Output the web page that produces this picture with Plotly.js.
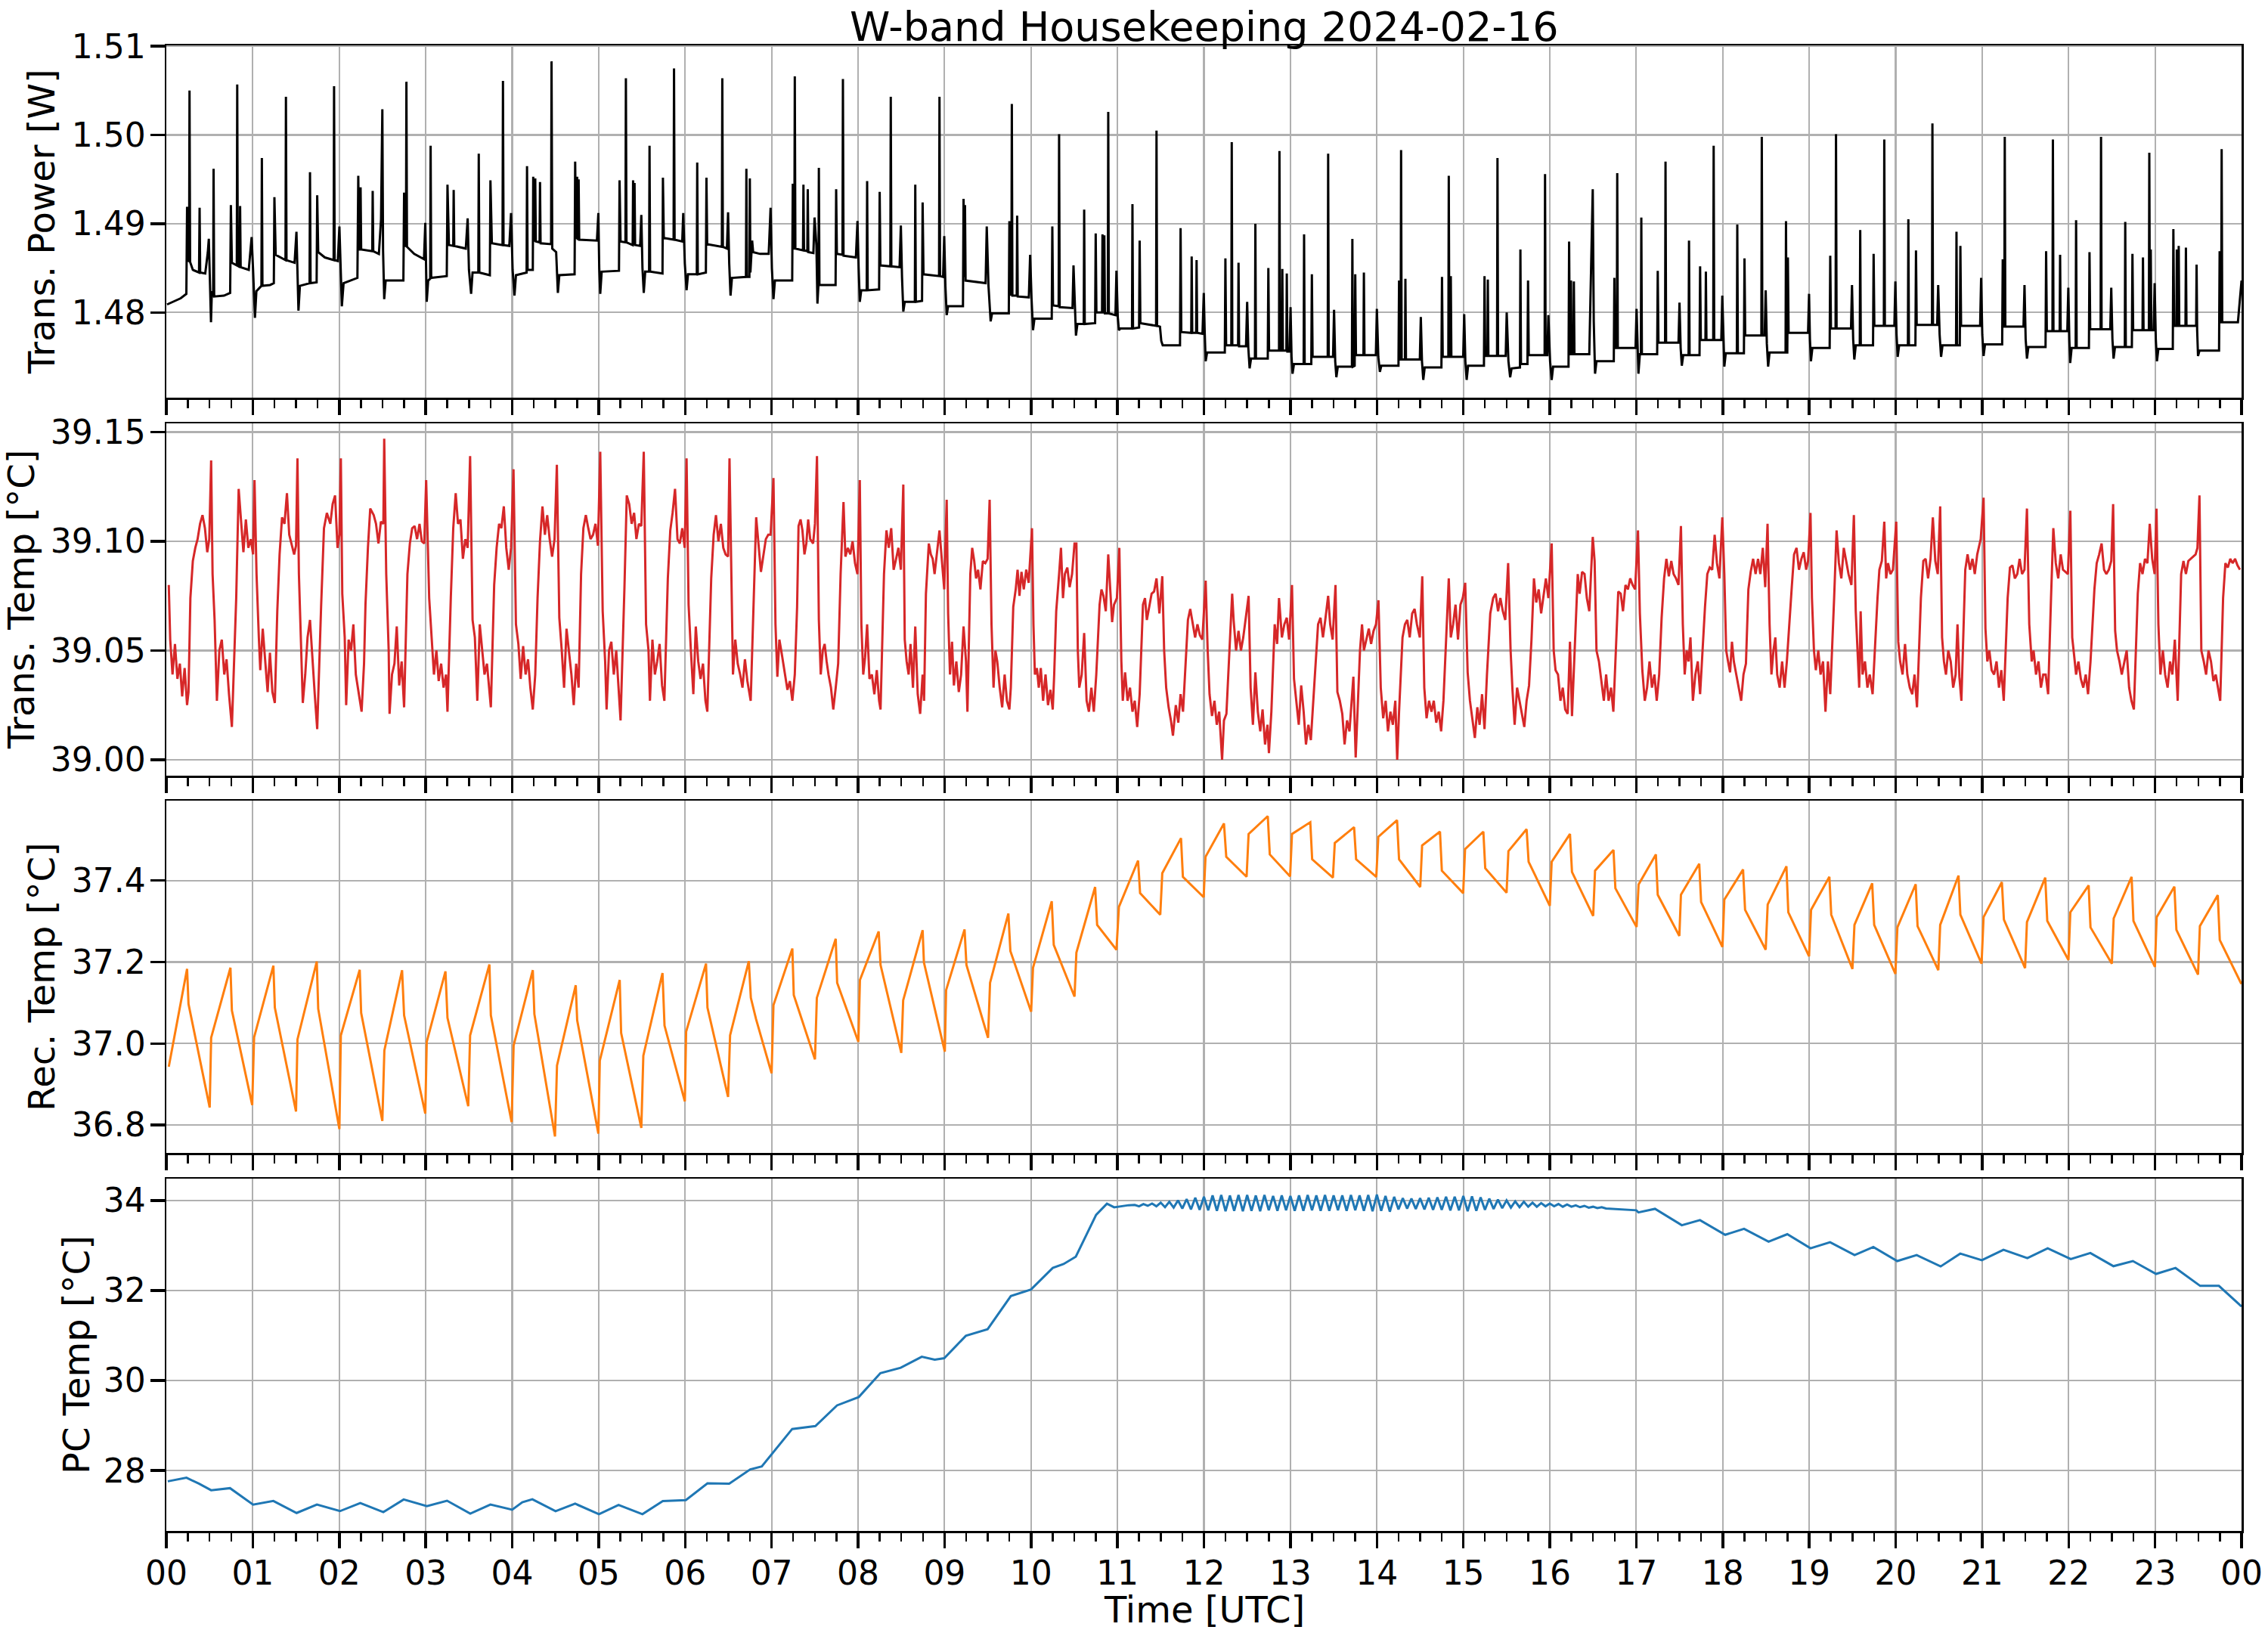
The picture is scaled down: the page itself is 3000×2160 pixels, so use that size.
<!DOCTYPE html>
<html>
<head>
<meta charset="utf-8">
<script src="https://cdn.plot.ly/plotly-3.0.1.min.js"></script>
<style>html,body{margin:0;padding:0;background:#fff}#plot{width:3000px;height:2160px}</style>
</head>
<body>
<div id="plot"></div>
<script>
// x values are minutes after 00:00 UTC
var hourTickMin = [0,60,120,180,240,300,360,420,480,540,600,660,720,780,840,900,960,1020,1080,1140,1200,1260,1320,1380,1440];
var hourLabels = ['00','01','02','03','04','05','06','07','08','09','10','11','12','13','14','15','16','17','18','19','20','21','22','23','00'];

var powerTicks = [1.48, 1.49, 1.50, 1.51];
var powerLabels = ['1.48', '1.49', '1.50', '1.51'];
var transTicks = [39.00, 39.05, 39.10, 39.15];
var transLabels = ['39.00', '39.05', '39.10', '39.15'];
var recTicks = [36.8, 37.0, 37.2, 37.4];
var recLabels = ['36.8', '37.0', '37.2', '37.4'];
var pcTicks = [28, 30, 32, 34];
var pcLabels = ['28', '30', '32', '34'];

// Trans. Power [W]
var powerPts = [
[0.5,1.4809],[5,1.4812],[10,1.4816],[13.9,1.4821],[14.4,1.4919],[14.9,1.4862],[15.8,1.4857],[16.1,1.5050],[16.5,1.4857],[18.4,1.4848],[22.7,1.4845],[23.1,1.4918],[23.5,1.4845],[27,1.4844],[28.8,1.4868],[29.5,1.4883],[30.3,1.4836],[31,1.4789],[31.6,1.4824],[32.5,1.4818],[32.8,1.4962],[33.2,1.4818],[40,1.4819],[44.3,1.4822],
[44.8,1.4921],[45.5,1.4856],[48.9,1.4853],[49.2,1.5057],[49.6,1.4853],[50.9,1.4851],[51.2,1.4920],[51.6,1.4851],[57.2,1.4848],[59.2,1.4885],[60.2,1.4848],[61.5,1.4794],[62.5,1.4824],[66,1.4830],[66.3,1.4974],[66.7,1.4830],[72,1.4831],[74.6,1.4833],
[75,1.4930],[75.9,1.4865],[82.7,1.4859],[83,1.5043],[83.4,1.4859],[89,1.4856],[90.3,1.4891],[91,1.4848],[91.7,1.4802],[92.7,1.4830],[99.4,1.4833],[99.7,1.4958],[100.1,1.4833],[104.3,1.4834],
[104.7,1.4932],[105.4,1.4868],[110,1.4862],[116.1,1.4859],[116.4,1.5055],[116.8,1.4859],[119,1.4858],[120.1,1.4897],[121.1,1.4848],[121.8,1.4807],[123,1.4833],[132.6,1.4839],
[133.2,1.4954],[133.8,1.4871],[134.5,1.4871],[134.8,1.4941],[135.2,1.4871],[142.9,1.4869],[143.2,1.4937],[143.6,1.4869],[147.5,1.4866],[149,1.4905],[149.9,1.5029],[150.4,1.4870],[151.2,1.4815],[152.2,1.4836],[164.5,1.4836],
[165,1.4935],[165.5,1.4880],[166.3,1.4874],[166.6,1.5060],[167,1.4874],[172,1.4866],[178.8,1.4860],[179.7,1.4901],[180.1,1.4855],[180.7,1.4812],[181.7,1.4836],[183.1,1.4838],[183.4,1.4988],[183.8,1.4839],[194.6,1.4841],
[195.1,1.4944],[196.1,1.4876],[199.1,1.4875],[199.4,1.4938],[199.8,1.4875],[207.8,1.4872],[209.1,1.4906],[210,1.4848],[211.5,1.4821],[212.5,1.4845],[216.5,1.4845],[216.8,1.4979],[217.2,1.4845],[224.5,1.4842],
[224.9,1.4949],[225.9,1.4878],[233.3,1.4876],[233.6,1.5061],[234,1.4876],[238,1.4875],[239.2,1.4912],[240.3,1.4848],[241.6,1.4819],[242.6,1.4842],[250,1.4845],[250.3,1.4965],[250.7,1.4848],[254.3,1.4848],
[254.6,1.4953],[255.2,1.4881],[255.7,1.4881],[256,1.4951],[256.4,1.4880],[259,1.4879],[259.3,1.4947],[259.7,1.4878],[267,1.4877],[267.3,1.5083],[267.8,1.4872],[270.5,1.4868],[271.7,1.4822],[272.7,1.4842],[283.3,1.4843],
[283.7,1.4970],[284.3,1.4884],[284.8,1.4884],[285.1,1.4953],[285.5,1.4883],[285.8,1.4883],[286.1,1.4950],[286.5,1.4882],[298.8,1.4881],[299.8,1.4912],[300.4,1.4850],[301.1,1.4821],[302.1,1.4846],[314.1,1.4847],
[314.5,1.4949],[315.2,1.4880],[318.6,1.4879],[318.9,1.5064],[319.3,1.4879],[323.6,1.4876],[323.9,1.4949],[324.3,1.4876],[324.6,1.4876],[324.9,1.4946],[325.3,1.4876],[328.8,1.4875],[329.6,1.4910],[330.4,1.4850],[331.3,1.4822],[332.3,1.4846],[335,1.4846],[335.3,1.4988],[335.7,1.4846],[344.3,1.4844],
[344.6,1.4952],[345.2,1.4884],[352,1.4882],[352.3,1.5075],[352.7,1.4882],[358,1.4880],[358.7,1.4912],[359.8,1.4855],[361,1.4825],[362,1.4843],[368.1,1.4843],[368.4,1.4969],[368.8,1.4843],[374.4,1.4845],
[374.8,1.4952],[375.3,1.4877],[385.5,1.4874],[385.8,1.5064],[386.2,1.4874],[389,1.4872],[389.8,1.4913],[390.6,1.4855],[391.5,1.4819],[392.5,1.4839],[402.2,1.4840],[402.5,1.4962],[402.9,1.4840],[404.6,1.4840],[404.9,1.4951],[405.3,1.4845],
[406.5,1.4881],[407.2,1.4868],[412,1.4866],[418,1.4866],[419.3,1.4918],[420.2,1.4850],[421.3,1.4815],[422.3,1.4836],[434.3,1.4836],
[434.7,1.4945],[435.3,1.4872],[435.8,1.4872],[436.1,1.5066],[436.5,1.4872],[441.8,1.4870],[442.1,1.4944],[442.5,1.4870],[444.8,1.4869],[445.1,1.4939],[445.5,1.4868],[449,1.4867],[449.8,1.4907],[451.1,1.4876],[451.8,1.4810],[452.5,1.4831],[452.8,1.4963],[453.2,1.4831],[464.4,1.4831],
[464.8,1.4939],[465.3,1.4866],[469.2,1.4865],[469.5,1.5063],[469.9,1.4864],[478.5,1.4862],[479.6,1.4903],[480.4,1.4850],[481.2,1.4812],[482.2,1.4825],[486,1.4825],[486.3,1.4948],[486.7,1.4825],[494.6,1.4826],
[495,1.4936],[495.5,1.4853],[502.4,1.4852],[502.7,1.5043],[503.1,1.4852],[508.8,1.4851],[509.7,1.4898],[510.5,1.4840],[511.4,1.4801],[512.4,1.4812],[519.4,1.4812],[519.7,1.4944],[520.1,1.4812],[524.4,1.4813],
[524.8,1.4924],[525.4,1.4843],[536.2,1.4841],[536.5,1.5043],[536.9,1.4841],[539,1.4840],[539.8,1.4886],[540.6,1.4830],[541.5,1.4797],[542.5,1.4807],[552.8,1.4807],
[553.2,1.4928],[553.6,1.4840],[553.9,1.4840],[554.2,1.4921],[554.6,1.4836],[568.5,1.4833],[569.3,1.4897],[570.5,1.4830],[572,1.4790],[573,1.4799],[584.6,1.4799],
[585,1.4903],[585.5,1.4820],[586.4,1.4820],[586.7,1.5035],[587.1,1.4819],[590.1,1.4819],[590.4,1.4909],[590.8,1.4818],[598.5,1.4817],[599.4,1.4865],[600.4,1.4815],[601.4,1.4780],[602.4,1.4793],[614.4,1.4793],
[614.8,1.4897],[615.3,1.4808],[619.2,1.4807],[619.5,1.5001],[619.9,1.4806],[628.8,1.4805],[629.5,1.4853],[630.4,1.4800],[631.2,1.4774],[632.2,1.4787],[636.6,1.4787],[636.9,1.4916],[637.3,1.4787],[644.5,1.4788],
[644.9,1.4889],[645.4,1.4800],[649.3,1.4800],[649.6,1.4888],[650,1.4800],[650.6,1.4800],[650.9,1.4887],[651.3,1.4799],[653.3,1.4799],[653.6,1.5026],[654,1.4799],[658.6,1.4797],[659.3,1.4847],[660.2,1.4795],[661,1.4780],[662,1.4782],[670.1,1.4782],[670.4,1.4922],[670.8,1.4782],[675,1.4783],
[675.4,1.4881],[675.9,1.4788],[686.8,1.4785],[687.1,1.5005],[687.5,1.4785],[689.5,1.4784],[690.4,1.4768],[691.4,1.4763],[703.4,1.4763],
[703.8,1.4895],[704.3,1.4778],[711.2,1.4777],[711.5,1.4863],[711.9,1.4777],[714.6,1.4777],[714.9,1.4859],[715.3,1.4777],[719,1.4776],[719.9,1.4822],[720.5,1.4780],[721.2,1.4745],[722.2,1.4755],[734.5,1.4755],
[734.9,1.4861],[735.4,1.4763],[739,1.4763],[739.3,1.4992],[739.7,1.4763],[743.7,1.4763],[744,1.4856],[744.4,1.4762],[749.2,1.4762],[750,1.4812],[750.8,1.4760],[751.7,1.4737],[752.7,1.4748],[755.4,1.4748],[755.7,1.4900],[756.1,1.4748],[764.3,1.4748],
[764.7,1.4850],[765.2,1.4757],[772.1,1.4757],[772.4,1.4982],[772.8,1.4757],[774.1,1.4757],[774.4,1.4849],[774.8,1.4757],[777.2,1.4757],[777.5,1.4844],[777.9,1.4756],[779.4,1.4756],[780.1,1.4806],[780.8,1.4750],[781.5,1.4731],[782.5,1.4742],[789.2,1.4742],[789.5,1.4888],[789.9,1.4742],[794.5,1.4742],
[794.9,1.4843],[795.4,1.4750],[805.9,1.4750],[806.2,1.4979],[806.6,1.4750],[809.6,1.4750],[810.3,1.4803],[811.1,1.4745],[811.9,1.4727],[812.9,1.4739],[822.7,1.4739],[823,1.4883],[823.4,1.4739],[824.6,1.4740],
[825,1.4843],[825.5,1.4752],[830.7,1.4752],[831,1.4845],[831.4,1.4752],[839.3,1.4752],[840,1.4804],[841,1.4750],[842.1,1.4733],[843.1,1.4740],[855,1.4740],
[855.4,1.4836],[855.9,1.4747],[856.5,1.4747],[856.8,1.4983],[857.2,1.4747],[859.5,1.4747],[859.8,1.4838],[860.2,1.4747],[869.8,1.4747],[870.5,1.4795],[871.3,1.4745],[872.2,1.4724],[873.2,1.4738],[884.8,1.4738],
[885.2,1.4840],[885.7,1.4750],[889.6,1.4750],[889.9,1.4954],[890.3,1.4750],[891,1.4750],[891.3,1.4841],[891.7,1.4750],[899.9,1.4750],[900.6,1.4798],[901.4,1.4745],[902.3,1.4724],[903.3,1.4740],[914.3,1.4740],
[914.7,1.4841],[915.2,1.4751],[916.7,1.4751],[917,1.4837],[917.4,1.4751],[923.4,1.4751],[923.7,1.4974],[924.1,1.4751],[929.4,1.4751],[930.1,1.4800],[931.3,1.4745],[932.5,1.4727],[933.5,1.4737],[939.3,1.4738],[939.6,1.4871],[940,1.4742],[944.5,1.4742],
[944.9,1.4836],[945.4,1.4752],[956.4,1.4752],[956.7,1.4956],[957.1,1.4752],[958.3,1.4752],[959,1.4797],[960.2,1.4745],[961.3,1.4724],[962.3,1.4739],[973,1.4739],
[973.4,1.4880],[973.9,1.4753],[974.4,1.4753],[974.7,1.4836],[975.1,1.4753],[976.4,1.4753],[976.7,1.4835],[977.1,1.4753],[987.4,1.4753],[988.1,1.4803],[989.8,1.4939],[990.5,1.4790],[991.4,1.4731],[992.4,1.4745],[1004.4,1.4745],
[1004.8,1.4839],[1005.3,1.4760],[1006.5,1.4760],[1006.8,1.4957],[1007.2,1.4760],[1019.5,1.4760],[1020.2,1.4804],[1020.9,1.4755],[1021.5,1.4731],[1022.5,1.4753],[1023.2,1.4753],[1023.5,1.4907],[1023.9,1.4753],[1034.5,1.4753],
[1034.9,1.4847],[1035.4,1.4766],[1040,1.4766],[1040.3,1.4970],[1040.7,1.4766],[1049.3,1.4766],[1050,1.4811],[1050.8,1.4760],[1051.6,1.4740],[1052.6,1.4752],[1056.3,1.4752],[1056.6,1.4881],[1057,1.4752],[1063.9,1.4752],
[1064.3,1.4852],[1064.8,1.4769],[1068,1.4769],[1068.3,1.4846],[1068.7,1.4769],[1073.4,1.4769],[1073.7,1.4988],[1074.1,1.4769],[1079,1.4769],[1079.7,1.4819],[1080.4,1.4765],[1081.1,1.4739],[1082.1,1.4754],[1089.8,1.4754],[1090.1,1.4899],[1090.5,1.4754],[1094.7,1.4754],
[1095.1,1.4861],[1095.6,1.4774],[1106.8,1.4774],[1107.1,1.4998],[1107.5,1.4774],[1109.1,1.4774],[1109.8,1.4825],[1110.6,1.4765],[1111.5,1.4739],[1112.5,1.4755],[1123.6,1.4755],[1123.9,1.4903],[1124.3,1.4755],[1124.8,1.4755],
[1125.2,1.4862],[1125.7,1.4777],[1139.2,1.4777],[1139.9,1.4821],[1140.5,1.4770],[1141.2,1.4745],[1142.2,1.4760],[1154.2,1.4760],
[1154.6,1.4864],[1155.1,1.4782],[1158.3,1.4782],[1158.6,1.5001],[1159,1.4782],[1169,1.4782],[1169.7,1.4831],[1170.5,1.4770],[1171.3,1.4747],[1172.3,1.4763],[1175.1,1.4763],[1175.4,1.4893],[1175.8,1.4763],[1184.3,1.4763],
[1184.7,1.4866],[1185.2,1.4785],[1191.8,1.4785],[1192.1,1.4995],[1192.5,1.4785],[1199.1,1.4785],[1199.8,1.4835],[1200.6,1.4775],[1201.4,1.4750],[1202.4,1.4763],[1208.5,1.4763],[1208.8,1.4905],[1209.2,1.4763],[1213.7,1.4763],
[1214.1,1.4870],[1214.6,1.4786],[1225.2,1.4786],[1225.5,1.5013],[1225.9,1.4786],[1228.8,1.4786],[1229.5,1.4831],[1230.5,1.4775],[1231.5,1.4750],[1232.5,1.4763],[1241.9,1.4763],[1242.2,1.4891],[1242.6,1.4763],[1244.5,1.4763],
[1244.9,1.4875],[1245.4,1.4785],[1258.6,1.4785],[1259.3,1.4839],[1260.1,1.4775],[1261,1.4751],[1262,1.4764],[1273.9,1.4764],
[1274.3,1.4860],[1274.8,1.4784],[1275.4,1.4784],[1275.7,1.4998],[1276.1,1.4784],[1288.7,1.4784],[1289.4,1.4831],[1290.2,1.4770],[1291.1,1.4748],[1292.1,1.4761],[1304,1.4761],
[1304.4,1.4869],[1304.9,1.4779],[1308.8,1.4779],[1309.1,1.4995],[1309.5,1.4779],[1313.8,1.4779],[1314.1,1.4865],[1314.5,1.4779],[1319.1,1.4779],[1319.8,1.4828],[1320.5,1.4770],[1321.1,1.4743],[1322.1,1.4760],[1324.9,1.4760],[1325.2,1.4904],[1325.6,1.4760],[1334.1,1.4760],
[1334.5,1.4868],[1335,1.4781],[1342.2,1.4781],[1342.5,1.4998],[1342.9,1.4781],[1348.9,1.4781],[1349.6,1.4828],[1350.4,1.4770],[1351.2,1.4748],[1352.2,1.4761],[1359,1.4761],[1359.3,1.4902],[1359.7,1.4761],[1363.9,1.4761],
[1364.3,1.4866],[1364.8,1.4780],[1371.3,1.4780],[1371.6,1.4862],[1372,1.4780],[1375.7,1.4780],[1376,1.4980],[1376.4,1.4780],[1376.7,1.4780],[1377,1.4871],[1377.4,1.4780],[1379,1.4780],[1379.7,1.4833],[1380.5,1.4770],[1381.3,1.4745],[1382.3,1.4759],[1392.3,1.4759],
[1392.7,1.4894],[1393.2,1.4785],[1394.8,1.4785],[1395.1,1.4871],[1395.5,1.4785],[1396.1,1.4785],[1396.4,1.4875],[1396.8,1.4785],[1401.1,1.4785],[1401.4,1.4873],[1401.8,1.4785],[1408.5,1.4785],[1408.8,1.4854],[1409.2,1.4780],[1409.8,1.4751],[1410.8,1.4757],[1424.4,1.4757],
[1424.8,1.4869],[1425.3,1.4789],[1425.9,1.4789],[1426.2,1.4984],[1426.6,1.4789],[1437.5,1.4789],[1440,1.4836]
];

// Trans. Temp [°C]
var transTempPts = [
[1.7,39.080],[2.7,39.055],[4.3,39.039],[6,39.053],[7.7,39.037],[9.4,39.044],[11,39.029],[12.7,39.042],[14.4,39.025],[15.4,39.031],
[16.7,39.074],[18.4,39.091],[20.1,39.097],[21.7,39.101],[23.4,39.108],[25.1,39.112],[26.8,39.106],[28.4,39.095],[29.8,39.101],[31.1,39.137],[32.1,39.085],[33.5,39.064],
[35.1,39.027],[36.8,39.050],[38.5,39.055],[40.2,39.039],[41.8,39.046],[43.5,39.030],[45.5,39.015],[46.8,39.039],
[48.5,39.074],[50.2,39.124],[51.9,39.108],[53.5,39.095],[55.2,39.110],[56.9,39.097],[58.6,39.101],[60.2,39.094],[61.2,39.128],[62.6,39.085],[64.2,39.056],
[65.2,39.041],[66.9,39.060],[68.6,39.044],[70.3,39.031],[71.9,39.049],[73.6,39.031],[75.3,39.026],
[77,39.068],[78.6,39.094],[80.3,39.111],[82,39.108],[83.7,39.122],[85.3,39.103],[87,39.098],[88.7,39.094],[90,39.098],[91,39.138],[92,39.085],[93.7,39.050],
[94.7,39.026],[96.4,39.039],[98,39.056],[99.7,39.064],[101.4,39.045],[103.1,39.029],[104.7,39.014],[106.1,39.045],
[107.4,39.070],[109.4,39.106],[111.4,39.113],[113.8,39.108],[115.4,39.117],[117.1,39.121],[118.8,39.097],[120.1,39.103],[121.1,39.138],[122.1,39.076],[123.8,39.056],
[124.8,39.025],[126.5,39.055],[128.2,39.050],[129.8,39.062],[131.5,39.039],[133.8,39.030],[135.5,39.022],[137.2,39.044],
[138.2,39.071],[139.9,39.097],[141.5,39.115],[143.9,39.112],[145.5,39.108],[147.2,39.099],[148.9,39.109],[150.6,39.108],[151.2,39.147],[152.6,39.085],[154.3,39.050],
[154.9,39.021],[156.6,39.039],[158.3,39.044],[159.9,39.061],[161.6,39.034],[163.3,39.045],[165,39.024],
[167.3,39.085],[169,39.099],[170.6,39.106],[172.3,39.107],[174,39.101],[175.7,39.108],[177.3,39.100],[179,39.099],[180.3,39.128],[182.4,39.074],[184,39.056],
[185.7,39.039],[187.4,39.050],[189,39.036],[190.7,39.044],[192.4,39.033],[194.1,39.039],[195.1,39.022],
[197.4,39.074],[199.1,39.106],[200.8,39.122],[202.4,39.108],[204.1,39.110],[205.8,39.092],[207.5,39.101],[209.1,39.097],[210.8,39.139],[212.5,39.064],[214.1,39.056],
[215.8,39.027],[217.5,39.062],[219.2,39.050],[220.8,39.039],[222.5,39.044],[224.2,39.033],[225.2,39.024],
[227.5,39.080],[229.2,39.097],[230.9,39.108],[232.5,39.106],[234.2,39.116],[235.9,39.097],[237.6,39.087],[239.2,39.097],[240.9,39.133],[242.6,39.062],[244.3,39.053],
[245.9,39.037],[247.6,39.052],[249.3,39.039],[251,39.046],[252.6,39.033],[254.3,39.023],[256,39.039],
[257.6,39.074],[259.3,39.100],[261,39.116],[262.7,39.103],[264.3,39.112],[266,39.101],[267.7,39.093],[269.4,39.101],[271,39.135],[272.7,39.065],[274.4,39.050],
[276,39.033],[277.7,39.060],[279.4,39.049],[281.1,39.039],[282.7,39.025],[284.4,39.044],[286.1,39.033],
[287.8,39.085],[289.4,39.106],[291.1,39.112],[292.8,39.106],[294.4,39.101],[296.1,39.103],[297.8,39.108],[299.5,39.098],[301.1,39.141],[302.8,39.068],[304.5,39.045],
[305.5,39.023],[307.2,39.050],[308.8,39.054],[310.5,39.039],[312.2,39.050],[313.9,39.033],[315.2,39.018],
[317.9,39.079],[319.5,39.121],[321.2,39.117],[322.9,39.108],[324.6,39.113],[326.2,39.101],[327.9,39.108],[329.6,39.107],[331.3,39.141],[332.9,39.062],[334.6,39.050],
[335.6,39.027],[337.3,39.055],[339,39.039],[340.6,39.045],[342.3,39.053],[344,39.034],[345.6,39.027],
[348,39.083],[349.7,39.105],[351.3,39.113],[353,39.124],[354.7,39.101],[356.3,39.099],[358,39.106],[359.7,39.097],[361,39.138],[362.4,39.071],[364,39.050],
[365.7,39.030],[367.4,39.061],[369.1,39.045],[370.7,39.037],[372.4,39.044],[374.1,39.027],[375.4,39.022],
[378.1,39.083],[379.8,39.103],[381.4,39.112],[383.1,39.100],[384.8,39.108],[386.5,39.097],[388.1,39.094],[389.8,39.093],[390.8,39.138],[392.2,39.074],[393.2,39.039],
[394.8,39.055],[396.5,39.044],[398.2,39.039],[399.8,39.033],[401.5,39.046],[403.2,39.036],[405.5,39.027],
[407.6,39.074],[409.3,39.111],[412.6,39.086],[414.3,39.094],[416,39.101],[417.7,39.103],[419.3,39.103],[421.3,39.129],[422.7,39.062],[424,39.038],[425.4,39.055],[426.7,39.050],[428,39.044],[429.4,39.039],[431,39.032],[432.7,39.036],[434.4,39.027],[436.1,39.039],
[437.7,39.070],[438.7,39.107],[440.1,39.110],[441.4,39.105],[442.8,39.094],[444.1,39.099],[445.4,39.110],[446.8,39.101],[448.8,39.099],[450.1,39.108],[451.5,39.139],[452.8,39.064],[454.1,39.039],[455.5,39.050],[456.8,39.053],[458.2,39.045],[459.5,39.039],[461.2,39.033],[462.8,39.023],[464.5,39.033],[466.2,39.044],
[467.9,39.085],[469.9,39.118],[471.2,39.093],[472.9,39.097],[474.6,39.094],[476.2,39.100],[477.9,39.090],[479.6,39.085],[481.2,39.128],[482.3,39.062],[483.6,39.039],[484.9,39.047],[486.3,39.062],[487.9,39.037],[489.6,39.039],[491.3,39.030],[493,39.041],[494.6,39.027],[495.6,39.023],
[498,39.085],[499.7,39.105],[501.3,39.097],[503,39.106],[504.7,39.087],[506.4,39.092],[508,39.097],[509.7,39.087],[511.4,39.126],[512.4,39.055],[513.7,39.045],[515.1,39.039],[516.4,39.053],[518.1,39.033],[519.7,39.061],[521.4,39.030],[523.1,39.021],[524.8,39.039],[525.8,39.027],
[527.1,39.076],[529.1,39.099],[530.5,39.094],[531.8,39.092],[533.1,39.085],[534.8,39.094],[536.5,39.105],[538.2,39.091],[539.8,39.078],[541.5,39.119],[542.5,39.067],[543.8,39.039],[545.2,39.054],[546.5,39.034],[548.2,39.045],[549.9,39.031],[551.5,39.039],[553.2,39.061],[554.9,39.045],[555.9,39.022],
[557.9,39.085],[559.2,39.097],[560.6,39.091],[561.9,39.083],[563.3,39.087],[564.9,39.078],[566.6,39.091],[568.3,39.090],[569.9,39.092],[571.3,39.119],[572.6,39.062],[574,39.033],[575.3,39.050],[576.6,39.045],[578.3,39.033],[580,39.024],[581.7,39.039],[583.3,39.027],[585,39.023],[586,39.033],
[587.7,39.070],[589.4,39.078],[590.7,39.087],[592,39.075],[593.4,39.086],[595,39.078],[596.7,39.087],[598.4,39.081],[600.7,39.106],[601.7,39.062],[602.7,39.039],[604.1,39.042],[605.4,39.033],[606.8,39.042],[608.4,39.027],[610.1,39.039],[611.8,39.025],[613.5,39.032],[615.1,39.023],[616.1,39.039],
[617.5,39.068],[619.5,39.085],[620.8,39.097],[622.2,39.074],[623.5,39.085],[625.2,39.088],[626.8,39.079],[628.5,39.085],[630.2,39.099],[631.5,39.099],[632.5,39.050],[633.5,39.033],[635.2,39.039],[636.9,39.058],[638.6,39.027],[640.2,39.022],[641.9,39.033],[643.6,39.022],[645.3,39.039],
[647.6,39.071],[648.9,39.078],[650.3,39.075],[651.9,39.068],[653.6,39.094],[655,39.080],[656.3,39.063],[657.6,39.071],[659.6,39.074],[661.3,39.097],[662.7,39.045],[663.7,39.027],[665.3,39.040],[667,39.027],[668.7,39.033],[670.4,39.022],[672,39.027],[673.7,39.015],[675.4,39.030],
[677.7,39.071],[679.1,39.074],[680.4,39.064],[682.1,39.070],[683.7,39.076],[685.4,39.077],[687.1,39.083],[689.1,39.067],[691.1,39.084],[692.4,39.050],[693.8,39.033],[695.5,39.024],[697.1,39.018],[698.5,39.011],[700.5,39.025],[702.2,39.017],[703.8,39.030],[705.5,39.022],
[708.9,39.064],[710.5,39.069],[712.2,39.062],[713.9,39.056],[715.5,39.062],[717.2,39.057],[718.9,39.055],[721.2,39.082],[722.6,39.050],[723.9,39.030],[725.6,39.020],[727.3,39.027],[728.9,39.016],[730.6,39.022],[732.6,39.000],[733.9,39.018],[735.6,39.021],
[738,39.055],[739.6,39.076],[740.6,39.064],[742.3,39.050],[744,39.059],[745.7,39.050],[747.3,39.056],[749,39.064],[751,39.075],[752.4,39.033],[754,39.016],[755.7,39.040],[757.4,39.022],[759.1,39.013],[760.7,39.023],[762.4,39.007],[764.1,39.016],[765.1,39.003],[766.8,39.022],
[769.1,39.062],[770.8,39.053],[772.1,39.074],[774.1,39.056],[775.8,39.062],[777.5,39.065],[779.1,39.055],[781.1,39.080],[782.5,39.037],[784.1,39.027],[785.8,39.016],[787.5,39.034],[789.2,39.022],[790.8,39.007],[792.5,39.016],[794.2,39.009],[795.9,39.027],
[799.2,39.062],[800.9,39.065],[802.6,39.056],[804.2,39.064],[806.2,39.075],[807.6,39.062],[809.3,39.055],[811.3,39.080],[812.6,39.031],[814.3,39.027],[816,39.021],[817.6,39.007],[819.3,39.018],[821,39.013],[823.7,39.038],[825.3,39.001],[826.3,39.016],
[828.3,39.050],[829.7,39.062],[831,39.050],[832.7,39.055],[834.4,39.060],[836,39.053],[837.7,39.059],[839.4,39.062],[841.1,39.073],[842.7,39.033],[844.4,39.019],[846.1,39.027],[847.7,39.013],[849.4,39.022],[851.1,39.016],[852.8,39.027],[854.1,39.000],[855.4,39.022],
[857.8,39.056],[859.5,39.062],[861.1,39.064],[862.8,39.056],[864.5,39.067],[866.2,39.069],[867.8,39.062],[869.8,39.056],[871.5,39.084],[872.9,39.033],[874.5,39.019],[876.2,39.027],[877.9,39.022],[879.5,39.027],[881.2,39.017],[882.9,39.022],[884.6,39.013],[886.2,39.027],
[888.6,39.065],[889.9,39.083],[891.3,39.056],[892.9,39.062],[894.6,39.071],[896.3,39.055],[898,39.071],[899.6,39.074],[901.3,39.081],[903,39.040],[904.6,39.027],[906.3,39.018],[908,39.010],[909.7,39.024],[911.3,39.016],[913,39.030],[914.7,39.014],[916.4,39.039],
[918.7,39.067],[920.7,39.074],[922.4,39.076],[924.1,39.068],[925.7,39.074],[927.4,39.068],[929.1,39.064],[931.1,39.090],[932.8,39.050],[934.1,39.032],
[935.6,39.016],[937.3,39.033],[938.9,39.027],[940.6,39.022],[942.3,39.015],[943.9,39.027],[945.6,39.034],
[947.3,39.055],[949,39.083],[950.6,39.072],[952.3,39.078],[954,39.067],[955.7,39.076],[957.3,39.083],[959,39.074],[961.3,39.099],[962.7,39.050],[964,39.041],[965.7,39.039],[967.4,39.027],[969,39.033],[970.7,39.023],[972.4,39.021],[974,39.054],[975.4,39.020],
[978.1,39.065],[979.4,39.085],[980.7,39.076],[982.4,39.086],[984.1,39.085],[985.7,39.074],[987.4,39.068],[989.8,39.102],[991.1,39.091],[992.4,39.050],[994.1,39.045],[995.8,39.036],[997.5,39.027],[999.1,39.039],[1000.8,39.027],[1002.5,39.033],[1004.1,39.022],
[1007.5,39.077],[1009.2,39.076],[1010.8,39.068],[1012.5,39.080],[1014.2,39.078],[1015.8,39.083],[1017.5,39.080],[1019.2,39.078],[1021.2,39.105],[1022.5,39.067],[1024.2,39.041],[1025.9,39.027],[1027.5,39.033],[1029.2,39.045],[1030.9,39.033],[1032.6,39.039],[1034.2,39.027],[1035.9,39.039],
[1037.6,39.065],[1039.3,39.083],[1040.9,39.092],[1042.6,39.084],[1044.3,39.091],[1045.9,39.085],[1047.6,39.083],[1049.3,39.080],[1051,39.107],[1052.3,39.062],[1053.6,39.039],[1055,39.050],[1056.3,39.045],[1057.6,39.056],[1059.3,39.027],[1061,39.039],[1062.7,39.045],[1064.3,39.030],
[1067.7,39.070],[1069.3,39.085],[1071,39.088],[1072.7,39.087],[1074.4,39.103],[1076,39.090],[1077.7,39.083],[1079.7,39.111],[1081.1,39.085],[1082.4,39.050],[1083.7,39.045],[1085.1,39.040],[1086.4,39.054],[1087.7,39.045],[1089.4,39.039],[1091.1,39.033],[1092.8,39.027],[1094.4,39.039],[1096.1,39.044],
[1097.8,39.078],[1099.4,39.086],[1101.1,39.092],[1102.8,39.085],[1104.5,39.092],[1106.1,39.085],[1107.8,39.097],[1109.5,39.079],[1111.1,39.108],[1112.5,39.062],[1113.8,39.039],[1115.2,39.050],[1116.5,39.056],[1117.8,39.039],[1119.5,39.033],[1121.2,39.045],[1122.9,39.033],[1124.5,39.045],
[1127.9,39.079],[1129.5,39.094],[1131.2,39.097],[1132.9,39.087],[1134.6,39.092],[1136.2,39.095],[1137.9,39.087],[1139.2,39.091],[1140.9,39.113],[1141.9,39.074],[1143.3,39.050],[1144.6,39.041],[1146.3,39.050],[1147.9,39.039],[1149.6,39.045],[1151.3,39.022],[1153,39.045],[1154.6,39.030],
[1157.3,39.074],[1159,39.105],[1160.6,39.090],[1162.3,39.083],[1164,39.097],[1165.7,39.091],[1167.3,39.085],[1169.3,39.080],[1171,39.112],[1172.3,39.068],[1173.7,39.045],[1174.7,39.033],[1175.7,39.068],[1177,39.039],[1178.7,39.045],[1180.4,39.033],[1182,39.039],[1184,39.030],
[1187.4,39.074],[1188.7,39.087],[1190.4,39.091],[1192.1,39.109],[1193.4,39.083],[1194.7,39.090],[1196.4,39.085],[1198.1,39.087],[1200.4,39.109],[1201.8,39.054],[1203.1,39.045],[1204.8,39.039],[1206.5,39.053],[1208.1,39.039],[1209.8,39.033],[1211.5,39.030],[1213.1,39.039],[1214.8,39.024],
[1217.5,39.074],[1219.2,39.091],[1220.8,39.092],[1222.5,39.083],[1224.2,39.092],[1225.8,39.111],[1227.5,39.091],[1229.2,39.085],[1230.9,39.116],[1232.2,39.056],[1233.5,39.045],[1234.9,39.039],[1236.5,39.050],[1238.2,39.045],[1239.9,39.033],[1241.6,39.039],[1242.9,39.062],[1244.2,39.038],[1245.6,39.027],
[1248.3,39.087],[1249.9,39.094],[1251.6,39.087],[1253.3,39.092],[1254.9,39.085],[1256.6,39.094],[1259,39.101],[1261,39.120],[1262.3,39.060],[1263.6,39.045],[1265,39.050],[1266.6,39.041],[1268.3,39.039],[1270,39.045],[1271.7,39.033],[1273.3,39.041],[1275,39.027],
[1277.7,39.074],[1279.3,39.088],[1281,39.089],[1282.7,39.083],[1284.4,39.085],[1286,39.092],[1287.7,39.085],[1289.4,39.087],[1291.1,39.115],[1292.7,39.062],[1294.4,39.045],[1295.7,39.050],[1297.4,39.039],[1299.1,39.045],[1300.8,39.033],[1302.4,39.039],[1304.1,39.039],[1305.8,39.030],
[1307.8,39.074],[1309.4,39.106],[1311.1,39.090],[1312.8,39.083],[1314.5,39.094],[1316.1,39.087],[1317.8,39.086],[1319.5,39.085],[1321.2,39.114],[1322.5,39.056],[1323.8,39.048],[1325.2,39.039],[1326.8,39.045],[1328.5,39.037],[1330.2,39.033],[1331.9,39.039],[1333.5,39.030],[1335.2,39.045],
[1337.9,39.078],[1339.5,39.090],[1341.2,39.094],[1342.9,39.099],[1344.6,39.087],[1346.2,39.085],[1347.9,39.087],[1349.6,39.091],[1350.9,39.117],[1352.3,39.059],[1353.6,39.050],[1355.3,39.045],[1356.9,39.039],[1358.6,39.045],[1360.3,39.050],[1362,39.033],[1363.6,39.027],[1365.3,39.023],
[1368,39.076],[1369.6,39.090],[1371.3,39.085],[1373,39.092],[1374.7,39.090],[1376.3,39.108],[1378,39.092],[1379.7,39.085],[1381,39.115],[1382.3,39.062],[1383.7,39.039],[1385.4,39.050],[1387,39.039],[1388.7,39.033],[1390.4,39.045],[1392,39.039],[1393.7,39.055],[1395.7,39.027],
[1398.1,39.085],[1399.7,39.091],[1401.4,39.085],[1403.1,39.091],[1404.8,39.092],[1406.4,39.093],[1408.1,39.094],[1409.4,39.097],[1410.8,39.121],[1412.1,39.050],[1413.8,39.045],[1415.4,39.039],[1417.1,39.050],[1418.8,39.045],[1420.5,39.036],[1422.1,39.039],[1423.8,39.033],[1425.2,39.027],
[1427.2,39.074],[1428.8,39.090],[1430.5,39.088],[1432.2,39.092],[1433.8,39.090],[1435.5,39.092],[1437.2,39.089],[1438.9,39.087]
];

// Rec. Temp [°C]
var recTempPts = [
[1.7,36.943],[14.4,37.183],[15.4,37.097],[30.1,36.843],[31.1,37.014],[44.5,37.186],[45.5,37.081],[59.6,36.849],[60.9,37.015],[74.3,37.191],[75.3,37.088],[90,36.833],[91,37.010],[104.4,37.201],[105.4,37.085],
[120.1,36.790],[121.1,37.020],[134.2,37.181],[135.2,37.075],[149.9,36.810],[151.3,36.983],[163.6,37.180],[165,37.069],[179.7,36.828],[180.7,37.004],[193.7,37.177],[195.1,37.063],[209.5,36.846],[210.8,37.020],[224.2,37.194],[225.2,37.069],
[239.6,36.807],[241,36.995],[254.3,37.180],[255.4,37.072],[269.7,36.772],[271.1,36.946],[284.1,37.143],[285.1,37.057],[299.8,36.779],[300.8,36.958],[314.6,37.156],[315.6,37.026],[329.6,36.793],[331,36.970],[344.3,37.173],[345.7,37.044],
[359.8,36.858],[360.7,37.029],[374.5,37.196],[375.5,37.088],[389.8,36.869],[391.2,37.020],[404.2,37.202],[405.6,37.112],[409.2,37.060],[420,36.927],[421.3,37.094],[434.4,37.233],[435.4,37.119],[450.1,36.961],[451.4,37.112],[464.5,37.257],[465.5,37.149],
[480.2,37.004],[481.3,37.156],[494.3,37.275],[495.6,37.193],[510,36.977],[511.3,37.106],[524.8,37.278],[525.7,37.199],[540.2,36.980],[541.1,37.131],[553.9,37.280],[555.2,37.193],[570.2,37.014],[571.6,37.149],[584.3,37.319],[585.7,37.227],
[600.1,37.078],[601.4,37.186],[614.4,37.349],[615.8,37.242],[630.2,37.115],[631.5,37.223],[644.5,37.384],[645.9,37.291],[659.3,37.230],[661,37.335],[674.3,37.449],[675.7,37.369],[689.7,37.316],[691.1,37.418],[704.1,37.504],[705.4,37.409],
[719.8,37.359],[721.1,37.458],[733.9,37.540],[735.5,37.458],[749.6,37.409],[751,37.514],[764.3,37.558],[765.7,37.464],[779.8,37.410],[781.1,37.514],[793.8,37.543],[795.1,37.452],[809.5,37.407],[810.8,37.492],[824.2,37.531],[825.6,37.452],
[839.6,37.409],[841,37.507],[854,37.548],[855.4,37.452],[870.1,37.384],[871.4,37.486],[883.8,37.520],[885.1,37.424],[899.9,37.369],[901.2,37.477],[913.9,37.520],[915.2,37.430],[930,37.370],[931.3,37.472],[943.9,37.526],[945.3,37.446],
[960,37.338],[961.3,37.446],[974,37.514],[975.4,37.421],[990.1,37.313],[991.4,37.424],[1004.2,37.475],[1005.5,37.381],[1020.2,37.286],[1021.6,37.390],[1033.6,37.464],[1034.9,37.365],[1049.9,37.264],[1051,37.365],[1063.7,37.441],[1065,37.347],
[1079.8,37.237],[1081.1,37.353],[1094.1,37.427],[1095.5,37.328],[1109.8,37.230],[1111.2,37.341],[1124.2,37.435],[1125.5,37.322],[1139.9,37.214],[1141.3,37.328],[1154,37.409],[1155.3,37.316],[1170,37.183],[1171.4,37.291],[1183.7,37.393],[1185.1,37.291],
[1199.8,37.171],[1201.2,37.285],[1213.9,37.391],[1215.2,37.288],[1229.6,37.180],[1230.9,37.291],[1243.6,37.412],[1244.9,37.316],[1259.6,37.196],[1261,37.310],[1273.7,37.396],[1275.1,37.304],[1289.8,37.185],[1291.1,37.298],[1303.8,37.407],[1305.2,37.301],
[1319.9,37.205],[1321.2,37.322],[1333.9,37.388],[1335.2,37.285],[1350,37.196],[1351.3,37.307],[1363.7,37.409],[1365,37.301],[1379.9,37.188],[1381.1,37.310],[1393.4,37.385],[1394.8,37.279],[1409.8,37.169],[1411.1,37.288],[1423.5,37.364],[1424.9,37.254],[1439.9,37.146]
];

// PC Temp [°C]
var pcTempPts = [
[1,27.762],[14,27.842],[22.6,27.710],[31.1,27.564],[44.2,27.610],[52.7,27.410],[60.2,27.245],[74.3,27.325],[90.4,27.059],[104.5,27.245],[120.5,27.100],[134.6,27.278],[150.6,27.079],[164.7,27.358],[180.8,27.212],[194.8,27.331],
[210.9,27.046],[224.9,27.245],[240,27.132],[247,27.298],[254,27.364],[270.1,27.099],[283.7,27.265],[300.2,27.033],[313.8,27.238],[330.4,27.033],[344.5,27.325],[360.5,27.344],[375.5,27.716],[390.6,27.709],[405.2,28.027],[413.2,28.094],
[421.7,28.426],[434.3,28.924],[450.4,28.990],[465.4,29.448],[480.5,29.634],[495.5,30.164],[509.6,30.284],[524.2,30.529],[533.2,30.463],[539.8,30.496],[554.8,30.994],[569.9,31.140],[586,31.877],[600,32.023],[615.1,32.500],[622.6,32.587],
[631.1,32.752],[645.2,33.681],[652.7,33.927],[657.7,33.847],[667.8,33.894],
[672,33.90],[675,33.87],[678,33.92],[681,33.88],[684,33.93],[687,33.87],[690,33.95],[693,33.85],[696,33.97],[699,33.84],[702,34.00],[705,33.82],[708,34.03],[711,33.80],[714,34.06],[717,33.79],[720,34.08],[723,33.78],[726,34.11],[729,33.77],
[732,34.12],[735,33.76],[738,34.11],[741,33.77],[744,34.12],[747,33.76],[750,34.12],[753,33.77],[756,34.11],[759,33.76],[762,34.12],[765,33.78],[768,34.10],[771,33.77],[774,34.11],[777,33.78],[780,34.10],[783,33.77],[786,34.11],[789,33.77],
[792,34.12],[795,33.78],[798,34.11],[801,33.77],[804,34.12],[807,33.77],[810,34.11],[813,33.78],[816,34.11],[819,33.77],[822,34.12],[825,33.78],[828,34.11],[831,33.77],[834,34.12],[837,33.76],[840,34.13],[843,33.77],[846,34.10],[849,33.75],
[852,34.08],[855,33.80],[858,34.05],[861,33.82],[864,34.04],[867,33.81],[870,34.05],[873,33.80],[876,34.06],[879,33.79],[882,34.07],[885,33.79],[888,34.08],[891,33.78],[894,34.08],[897,33.78],[900,34.10],[903,33.76],[906,34.09],[909,33.77],
[912,34.07],[915,33.79],[918,34.04],[921,33.81],[924,34.02],[927,33.83],[930,34.00],[933,33.84],[936,33.98],[939,33.85],[942,33.97],[945,33.86],[948,33.95],[951,33.86],[954,33.94],[957,33.87],[960,33.93],[963,33.87],[966,33.92],[969,33.86],
[972,33.91],[975,33.86],[978,33.89],[981,33.85],[984,33.88],[987,33.84],[990,33.86],[993,33.83],[996,33.85],[999,33.82],
[1003,33.814],[1020,33.781],[1021.5,33.735],[1033,33.814],[1051.6,33.449],[1064.2,33.562],[1081.7,33.237],[1094.8,33.370],[1111.8,33.084],[1124.8,33.250],[1140.9,32.938],[1154.5,33.071],[1171.5,32.786],[1184.5,32.965],[1201.1,32.653],[1214.6,32.786],
[1231.2,32.534],[1244.8,32.819],[1259.8,32.673],[1274.8,32.905],[1291.4,32.719],[1305.5,32.938],[1321.5,32.699],[1335.1,32.832],[1351.1,32.540],[1364.6,32.653],[1380.7,32.368],[1394.2,32.500],[1411.3,32.102],[1424.3,32.102],[1440,31.644]
];

// figure geometry (paper pixels of the 3000 x 2160 page)
var W = 3000, H = 2160;
var plotLeft = 220, plotRight = 2965;
var panelTop = [60, 560, 1059, 1559];
var panelBottom = [526, 1026, 1525, 2025];

function yDomain(i) {
  return [1 - panelBottom[i] / H, 1 - panelTop[i] / H];
}

function xAxis(anchor, showLabels) {
  return {
    domain: [plotLeft / W, plotRight / W], anchor: anchor, range: [0, 1440],
    tickmode: 'array', tickvals: hourTickMin, ticktext: hourLabels,
    showticklabels: showLabels, tickfont: {size: 44}, ticklabelstandoff: -4,
    ticks: 'outside', ticklen: 20, tickwidth: 3.5, tickcolor: '#000',
    minor: {ticks: 'outside', tick0: 0, dtick: 15, ticklen: 11, tickwidth: 2.5, tickcolor: '#000', showgrid: false},
    showgrid: true, gridcolor: '#b0b0b0', gridwidth: 2.2,
    showline: true, mirror: true, linecolor: '#000', linewidth: 2.5, zeroline: false
  };
}

function yAxis(anchor, i, range, vals, labels) {
  return {
    domain: yDomain(i), anchor: anchor, range: range,
    tickmode: 'array', tickvals: vals, ticktext: labels, tickfont: {size: 44}, ticklabelstandoff: -3,
    ticks: 'outside', ticklen: 19, tickwidth: 3.5, tickcolor: '#000',
    showgrid: true, gridcolor: '#b0b0b0', gridwidth: 2.2,
    showline: true, mirror: true, linecolor: '#000', linewidth: 2.5, zeroline: false
  };
}

function series(pts, color, xa, ya) {
  return {
    x: pts.map(function (p) { return p[0]; }),
    y: pts.map(function (p) { return p[1]; }),
    xaxis: xa, yaxis: ya, type: 'scatter', mode: 'lines',
    line: {color: color, width: 3}, hoverinfo: 'skip', showlegend: false
  };
}

var data = [
  series(powerPts, '#000000', 'x', 'y'),
  series(transTempPts, '#d62728', 'x2', 'y2'),
  series(recTempPts, '#ff7f0e', 'x3', 'y3'),
  series(pcTempPts, '#1f77b4', 'x4', 'y4')
];

function yLabel(text, xpx, i) {
  return {
    text: text, xref: 'paper', yref: 'paper', showarrow: false,
    x: xpx / W, y: 1 - (panelTop[i] + panelBottom[i]) / 2 / H,
    xanchor: 'center', yanchor: 'middle', textangle: -90, font: {size: 48}
  };
}

var layout = {
  width: W, height: H,
  margin: {l: 0, r: 0, t: 0, b: 0},
  paper_bgcolor: '#fff', plot_bgcolor: '#fff',
  font: {family: 'DejaVu Sans', color: '#000', size: 44},
  showlegend: false,
  xaxis: xAxis('y', false),
  xaxis2: xAxis('y2', false),
  xaxis3: xAxis('y3', false),
  xaxis4: xAxis('y4', true),
  yaxis: yAxis('x', 0, [1.4704, 1.5101], powerTicks, powerLabels),
  yaxis2: yAxis('x2', 1, [38.9927, 39.1540], transTicks, transLabels),
  yaxis3: yAxis('x3', 2, [36.7315, 37.596], recTicks, recLabels),
  yaxis4: yAxis('x4', 3, [26.66, 34.484], pcTicks, pcLabels),
  annotations: [
    {text: 'W-band Housekeeping 2024-02-16', xref: 'paper', yref: 'paper', showarrow: false,
     x: (plotLeft + plotRight) / 2 / W, y: 1 - 35 / H, xanchor: 'center', yanchor: 'middle', font: {size: 54}},
    yLabel('Trans. Power [W]', 55, 0),
    yLabel('Trans. Temp [°C]', 28, 1),
    yLabel('Rec. Temp [°C]', 55, 2),
    yLabel('PC Temp [°C]', 101, 3),
    {text: 'Time [UTC]', xref: 'paper', yref: 'paper', showarrow: false,
     x: (plotLeft + plotRight) / 2 / W, y: 1 - 2129 / H, xanchor: 'center', yanchor: 'middle', font: {size: 48}}
  ]
};

Plotly.newPlot('plot', data, layout, {displayModeBar: false, staticPlot: true});
</script>
</body>
</html>
